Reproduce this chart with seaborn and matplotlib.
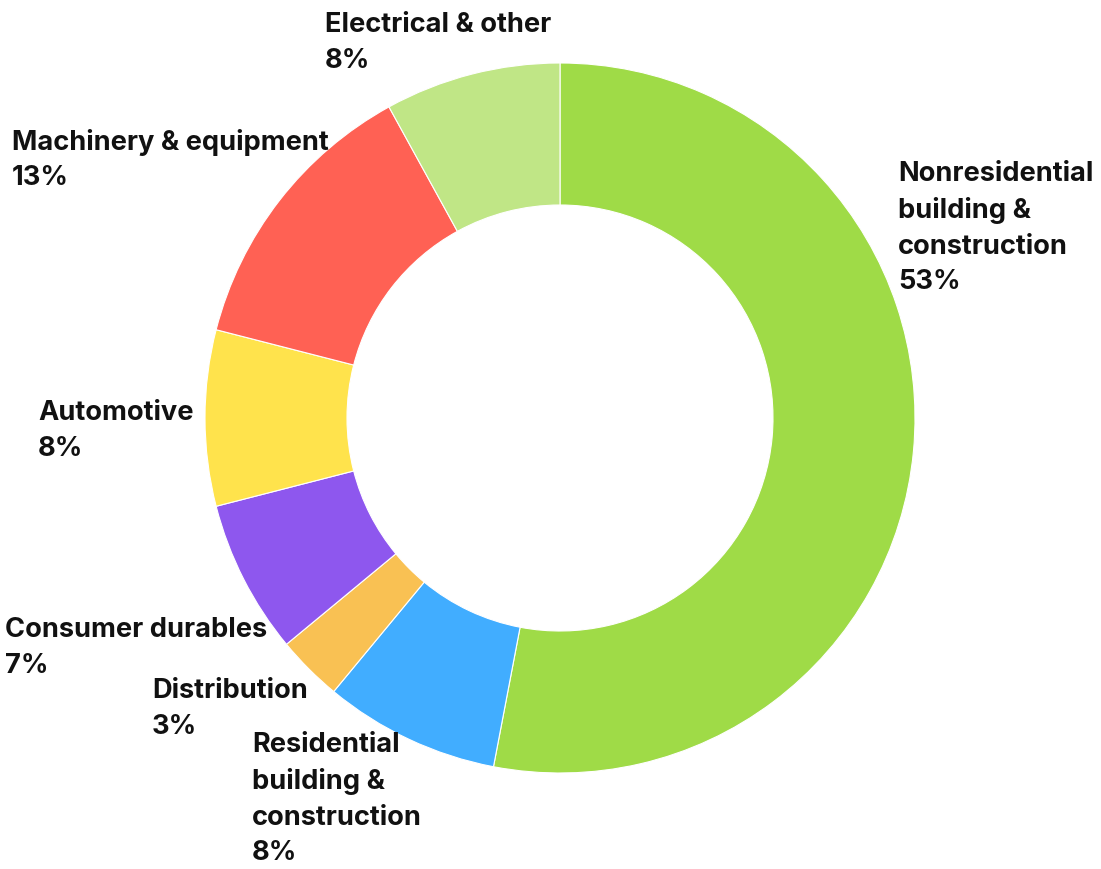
import matplotlib
matplotlib.use("Agg")
import matplotlib.pyplot as plt
import seaborn as sns

# End-use shares (%), clockwise from 12 o'clock
categories = [
    "Nonresidential\nbuilding &\nconstruction",
    "Residential\nbuilding &\nconstruction",
    "Distribution",
    "Consumer durables",
    "Automotive",
    "Machinery & equipment",
    "Electrical & other",
]
shares = [53, 8, 3, 7, 8, 13, 8]
hex_colors = ["#9FDB47", "#41ADFF", "#F9C153", "#8E57EE", "#FFE34C", "#FF6154", "#C0E686"]

sns.set_theme(style="white")
plt.rcParams["font.family"] = ["Inter", "DejaVu Sans"]
palette = sns.color_palette(hex_colors)

W, H = 1101, 869
fig = plt.figure(figsize=(W / 100, H / 100), dpi=100)
fig.patch.set_facecolor("white")

cx, cy, r = 560, 418, 355
ax = fig.add_axes([(cx - r) / W, (H - cy - r) / H, 2 * r / W, 2 * r / H])
ax.pie(
    shares,
    colors=palette,
    startangle=90,
    counterclock=False,
    radius=1.0,
    wedgeprops=dict(width=0.4, edgecolor="white", linewidth=0.8),
)
ax.set_xlim(-1, 1)
ax.set_ylim(-1, 1)
ax.set_aspect("equal")
ax.axis("off")

# label anchors: left edge x and vertical centre of each text block, in pixels
label_pos = [
    (898, 228),
    (252, 799),
    (152, 709),
    (5, 648),
    (38, 431),
    (12, 160),
    (325, 43),
]
for name, val, (lx, ly) in zip(categories, shares, label_pos):
    fig.text(
        lx / W, 1 - ly / H, f"{name}\n{val}%",
        ha="left", va="center", fontsize=19.6, fontweight="bold",
        color="#111111", linespacing=1.49,
    )

fig.savefig("out.png", dpi=100, facecolor="white")
